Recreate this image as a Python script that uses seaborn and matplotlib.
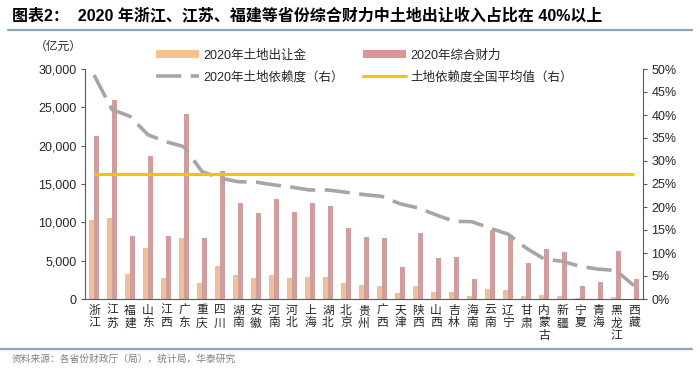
import numpy as np
import pandas as pd
import seaborn as sns
import matplotlib.pyplot as plt
from matplotlib.lines import Line2D
from matplotlib.patches import Patch
from matplotlib.ticker import FuncFormatter, MultipleLocator

provinces = ['浙江', '江苏', '福建', '山东', '江西', '广东', '重庆', '四川', '湖南', '安徽',
             '河南', '河北', '上海', '湖北', '北京', '贵州', '广西', '天津', '陕西', '山西',
             '吉林', '海南', '云南', '辽宁', '甘肃', '内蒙古', '新疆', '宁夏', '青海', '黑龙江', '西藏']
land_income = [10250, 10600, 3210, 6640, 2780, 7990, 2130, 4300, 3170, 2780,
               3190, 2740, 2910, 2820, 2130, 1820, 1740, 780, 1650, 960,
               870, 350, 1300, 1130, 430, 480, 430, 80, 50, 300, 30]
total_fin = [21230, 25920, 8200, 18670, 8200, 24100, 7950, 16670, 12500, 11200,
             13000, 11330, 12460, 12160, 9250, 8120, 7950, 4120, 8550, 5380,
             5510, 2560, 9030, 8380, 4690, 6510, 6170, 1650, 2170, 6250, 2560]
dependency = [48.7, 41.2, 39.7, 35.7, 34.2, 33.1, 27.7, 26.3, 25.5, 25.4,
              24.8, 24.3, 23.7, 23.7, 23.2, 22.7, 22.3, 20.7, 19.8, 18.3,
              16.9, 16.8, 15.4, 14.1, 11.1, 8.7, 8.2, 7.1, 6.5, 6.2, 2.9]
national_avg = 27.1

s_land = '2020年土地出让金'
s_total = '2020年综合财力'
s_dep = '2020年土地依赖度（右）'
s_avg = '土地依赖度全国平均值（右）'

c_orange = '#F9BF8F'
c_red = '#D99694'
c_gray = '#A6A6A6'
c_yellow = '#FFC000'
c_rule = '#8EA5BC'
c_axis = '#595959'

sns.set_style('white')
plt.rcParams['font.family'] = ['Liberation Sans', 'Noto Sans CJK SC']
plt.rcParams['axes.unicode_minus'] = False

df = pd.DataFrame({
    'province': provinces * 2,
    'value': land_income + total_fin,
    'series': [s_land] * len(provinces) + [s_total] * len(provinces),
})

fig = plt.figure(figsize=(7, 3.71), dpi=100)
ax = fig.add_axes([85 / 700, 72 / 371, 558 / 700, 230 / 371])

sns.barplot(df, x='province', y='value', hue='series', hue_order=[s_land, s_total],
            palette=[c_orange, c_red], width=0.56, linewidth=0, ax=ax, legend=False)

ax.set_ylim(0, 30000)
ax.set_xlim(-0.5, len(provinces) - 0.5)
ax.yaxis.set_major_locator(MultipleLocator(5000))
ax.yaxis.set_major_formatter(FuncFormatter(lambda v, p: f'{int(v):,}'))
ax.set_xlabel('')
ax.set_ylabel('')

# x labels vertical (one char per line), ticks between categories
idx = np.arange(len(provinces))
ax.set_xticks(idx)
ax.set_xticklabels(['\n'.join(p) for p in provinces], fontsize=8.5, linespacing=1.1,
                   va='top', color='#262626')
ax.tick_params(axis='x', length=0, pad=4)
ax.set_xticks(np.arange(len(provinces) + 1) - 0.5, minor=True)
ax.tick_params(axis='x', which='minor', length=3, color=c_axis, direction='out')
ax.tick_params(axis='y', length=3, color=c_axis, direction='out', left=True,
               labelsize=9, labelcolor='#262626', pad=3)

for side in ['top', 'right']:
    ax.spines[side].set_visible(False)
for side in ['left', 'bottom']:
    ax.spines[side].set_color(c_axis)
    ax.spines[side].set_linewidth(0.8)

ax2 = ax.twinx()
sns.lineplot(x=idx, y=dependency, color=c_gray, linewidth=2.6, ax=ax2,
             dashes=False)
ax2.lines[0].set_dashes((7, 2.6))
ax2.hlines(national_avg, idx[0], idx[-1], color=c_yellow, linewidth=2.2)
ax2.set_ylim(0, 50)
ax2.yaxis.set_major_locator(MultipleLocator(5))
ax2.yaxis.set_major_formatter(FuncFormatter(lambda v, p: f'{int(v)}%'))
ax2.tick_params(axis='y', length=3, color=c_axis, direction='out', right=True,
                labelsize=9, labelcolor='#262626', pad=3)
for side in ['top', 'left', 'bottom']:
    ax2.spines[side].set_visible(False)
ax2.spines['right'].set_color(c_axis)
ax2.spines['right'].set_linewidth(0.8)
ax2.set_ylabel('')

handles = [
    Patch(facecolor=c_orange, edgecolor='none'),
    Line2D([0], [0], color=c_gray, linewidth=2.6, dashes=(7, 2.6)),
    Patch(facecolor=c_red, edgecolor='none'),
    Line2D([0], [0], color=c_yellow, linewidth=2.2),
]
labels = [s_land, s_dep, s_total, s_avg]
fig.legend(handles, labels, ncol=2, loc='upper left', bbox_to_anchor=(150 / 700, 1 - 43 / 371),
           frameon=False, fontsize=9, handlelength=3.4, handleheight=0.5,
           labelspacing=0.75, columnspacing=1.5, handletextpad=0.4, borderpad=0)

fig.text(58 / 700, 1 - 47 / 371, '（亿元）', fontsize=8.5, ha='center', va='center', color='#262626')

fig.text(12 / 700, 1 - 15 / 371,
         '图表2：  2020 年浙江、江苏、福建等省份综合财力中土地出让收入占比在 40%以上',
         fontsize=11.5, fontweight='bold', ha='left', va='center', color='#000000')
fig.add_artist(Line2D([8 / 700, 692 / 700], [1 - 29.5 / 371] * 2, color=c_rule, linewidth=1.6))
fig.add_artist(Line2D([0, 692 / 700], [1 - 349 / 371] * 2, color=c_rule, linewidth=1.6))
fig.text(12 / 700, 1 - 359 / 371, '资料来源：各省份财政厅（局），统计局，华泰研究',
         fontsize=7, ha='left', va='center', color='#808080')

fig.savefig('out.png', dpi=100)
